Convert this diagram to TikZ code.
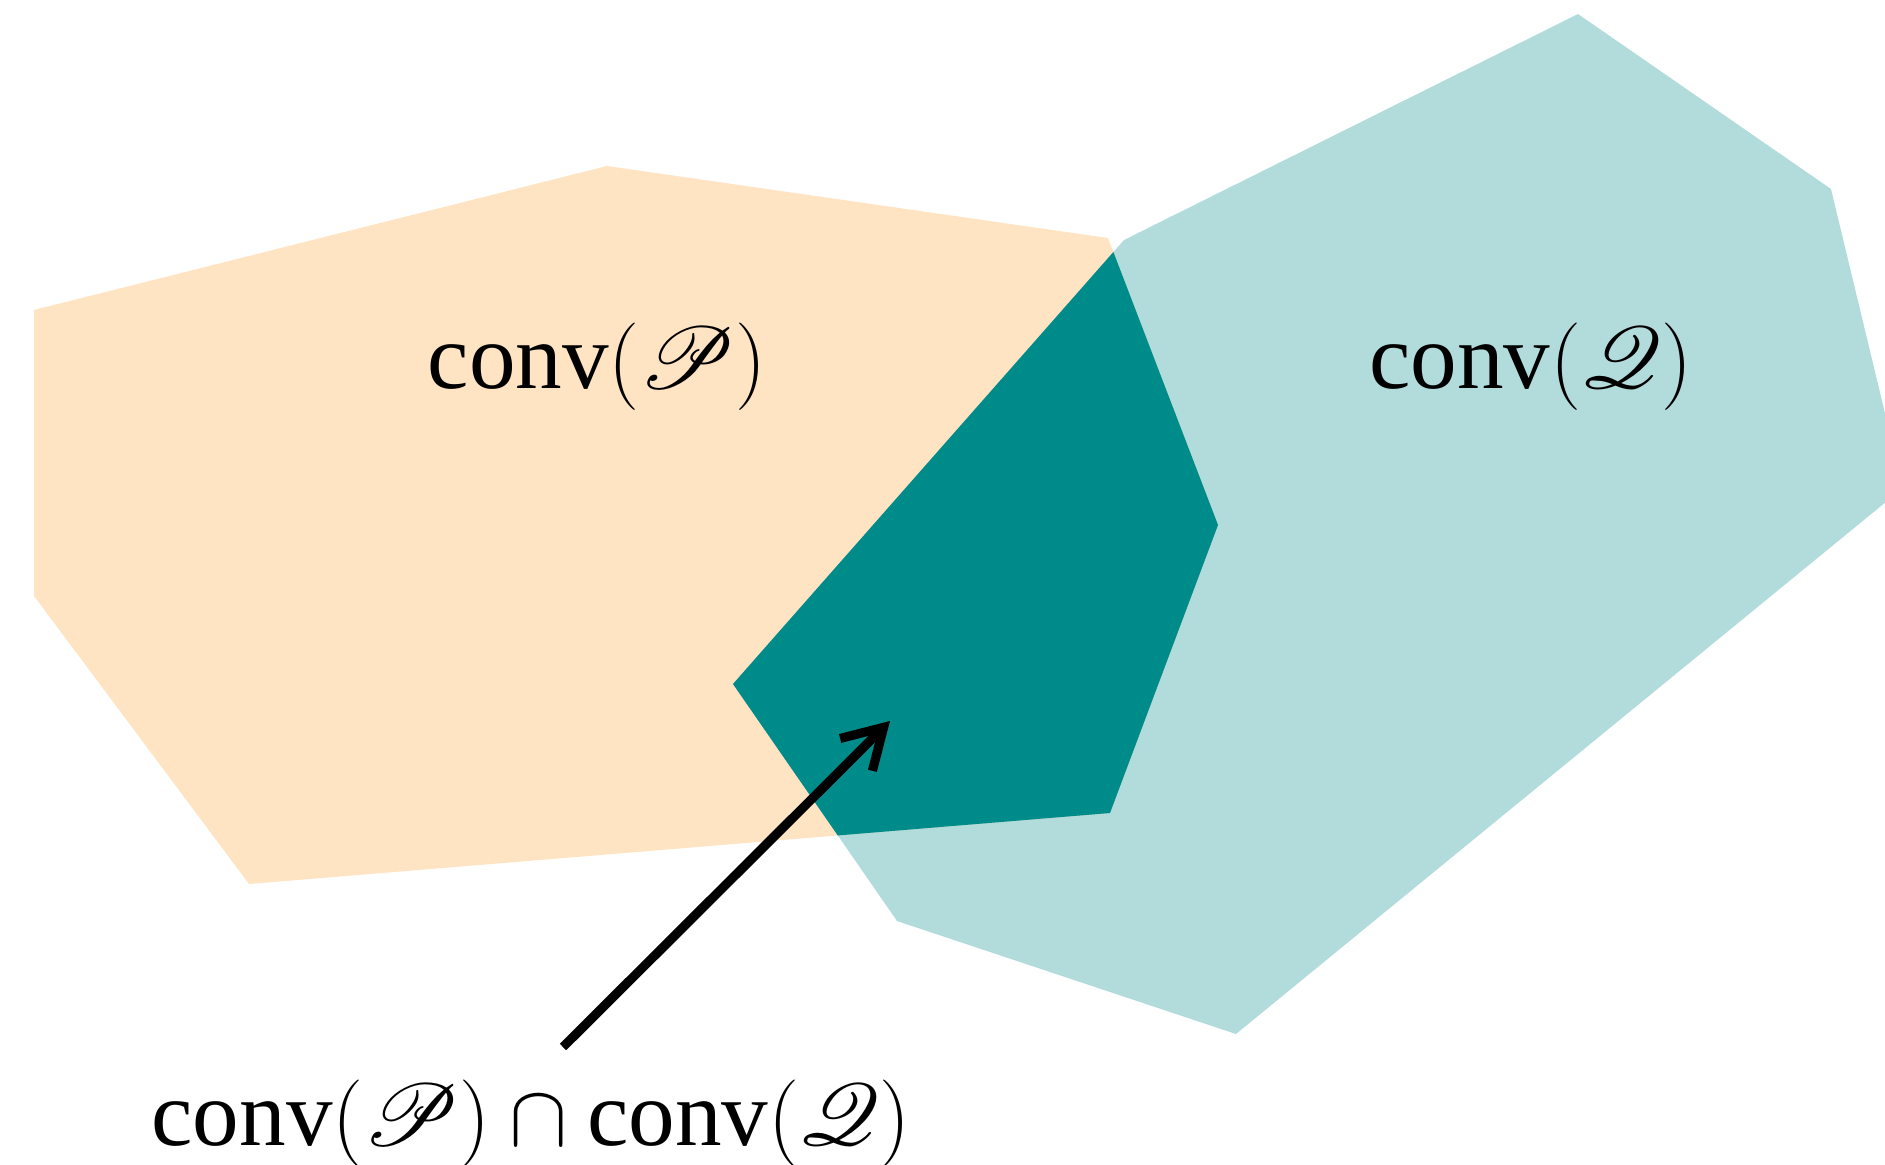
\documentclass[tikz,border=0pt]{standalone}
\usepackage{fontspec}
\setmainfont{Liberation Serif}
\usepackage{amsmath}
\usepackage{mathrsfs}
\usetikzlibrary{arrows.meta}
\definecolor{cBisque}{RGB}{255,228,196}
\definecolor{cTeal}{RGB}{0,139,139}
\tikzset{
  convP/.style={fill=cBisque},
  convQ/.style={fill=cTeal, fill opacity=0.3},
  convPQ/.style={fill=cTeal},
  convlbl/.style={inner sep=0pt, font=\fontsize{26.5}{32}\selectfont},
  convarrow/.style={-{Straight Barb[length=11pt, width=13pt]}, line width=2.6pt, line join=round},
}

\begin{document}
\begin{tikzpicture}[x=0.1mm, y=-0.1mm]
  \useasboundingbox (0,0) rectangle (1885,1165);
  % Polygone P
  \fill[convP] (34,310) -- (607,166) -- (1108,238) -- (1218,525) -- (1110,813)
    -- (249,884) -- (34,596) -- cycle;
  % Polygone Q
  \fill[convQ] (1124,240) -- (1578,14) -- (1831,189) -- (1903,488) -- (1236,1034)
    -- (897,921) -- (733,684) -- cycle;
  % Schnitt
  \begin{scope}
    \clip (34,310) -- (607,166) -- (1108,238) -- (1218,525) -- (1110,813)
      -- (249,884) -- (34,596) -- cycle;
    \fill[convPQ] (1124,240) -- (1578,14) -- (1831,189) -- (1903,488) -- (1236,1034)
      -- (897,921) -- (733,684) -- cycle;
  \end{scope}
  % Labels
  \node[convlbl] (lblP) at (597,367) {conv$(\mathscr{P})$};
  \node[convlbl] (lblQ) at (1531,367) {conv$(\mathscr{Q})$};
  \node[convlbl] (lblPQ) at (531,1124) {conv$(\mathscr{P})\cap{}$conv$(\mathscr{Q})$};
  % Pfeil
  \coordinate (tail) at (563,1047);
  \coordinate (tip) at (890,721);
  \draw[convarrow] (tail) -- (tip);
\end{tikzpicture}
\end{document}
